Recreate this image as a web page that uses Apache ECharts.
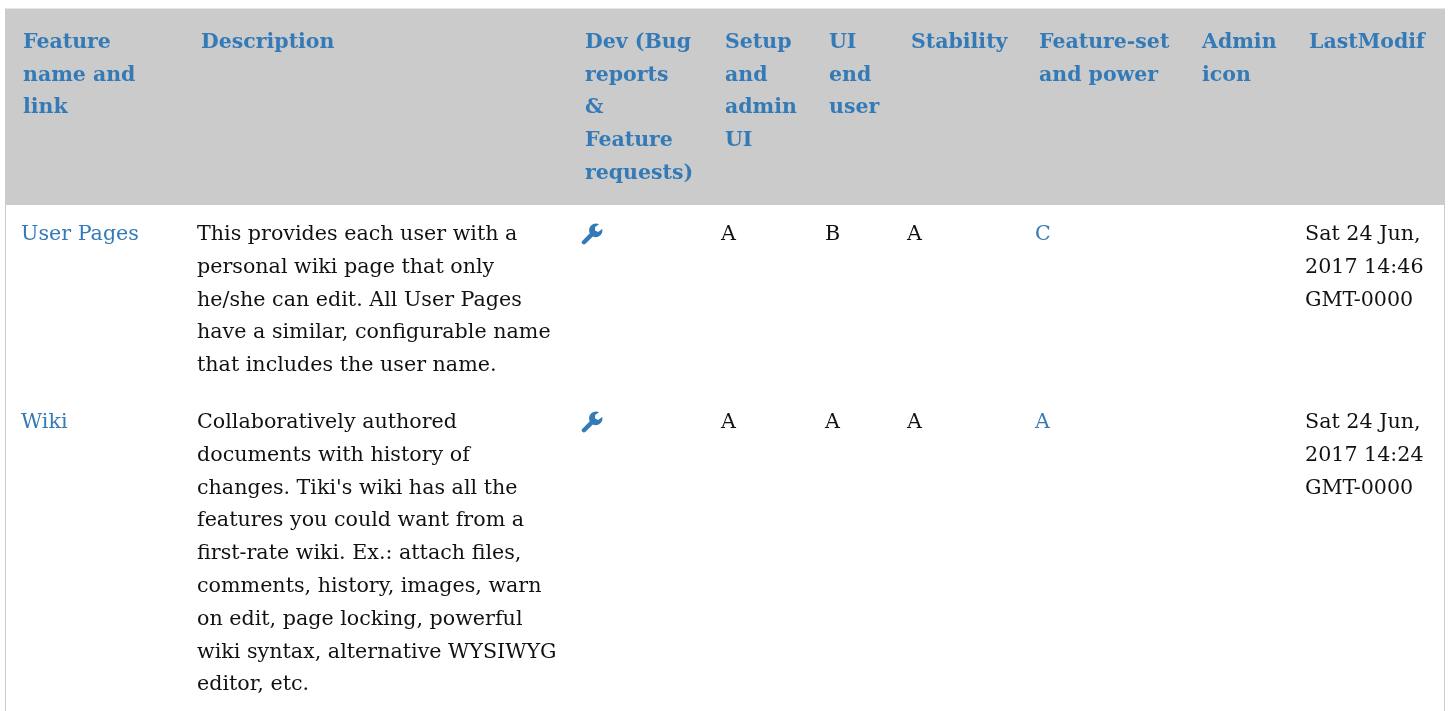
<!DOCTYPE html>
<html>
<head>
<meta charset="utf-8">
<style>
  html, body { margin: 0; padding: 0; background: #fff; }
  #tableChart { width: 1448px; height: 711px; }
</style>
<script src="https://cdn.jsdelivr.net/npm/echarts@6/dist/echarts.min.js"></script>
</head>
<body>
<div id="tableChart"></div>
<script>
// table content
const headers = [
  ['Feature', 'name and', 'link'],
  ['Description'],
  ['Dev (Bug', 'reports', '&', 'Feature', 'requests)'],
  ['Setup', 'and', 'admin', 'UI'],
  ['UI', 'end', 'user'],
  ['Stability'],
  ['Feature-set', 'and power'],
  ['Admin', 'icon'],
  ['LastModif']
];
const featureNames = ['User Pages', 'Wiki'];
const descriptions = [
  ['This provides each user with a', 'personal wiki page that only', 'he/she can edit. All User Pages', 'have a similar, configurable name', 'that includes the user name.'],
  ['Collaboratively authored', 'documents with history of', "changes. Tiki's wiki has all the", 'features you could want from a', 'first-rate wiki. Ex.: attach files,', 'comments, history, images, warn', 'on edit, page locking, powerful', 'wiki syntax, alternative WYSIWYG', 'editor, etc.']
];
const setupGrades = ['A', 'A'];
const uiGrades = ['B', 'A'];
const stabilityGrades = ['A', 'A'];
const powerGrades = ['C', 'A'];
const lastModified = [
  ['Sat 24 Jun,', '2017 14:46', 'GMT-0000'],
  ['Sat 24 Jun,', '2017 14:24', 'GMT-0000']
];

// layout, in page pixels
const headerX = [23, 201, 585, 725, 829, 911, 1039, 1202, 1309];
const bodyX = [21, 197, 581, 721, 825, 907, 1035, 1198, 1305];
const rowY = [234.8, 422.8];
const headerY = 42.5;
const lineHeight = 32.77;

const fontFamily = '"DejaVu Serif", serif';
const linkColor = '#337ab7';
const textColor = '#111111';
const wrenchPath = 'M0.7 17.4L8.3 9.8C7.8 8.9 7.6 7.9 7.6 6.9C7.6 3.1 10.7 0 14.5 0C15.6 0 16.6 0.3 17.5 0.7L13.6 3.6L13.6 7L16.6 8.4L20.6 5.6C20.8 6 20.9 6.5 20.9 7C20.9 10.8 17.8 13.7 14 13.7C13.1 13.7 12.2 13.5 11.4 13.1L4 20.3C3.1 21.2 1.8 21.2 0.9 20.3L0.7 20.1C-0.1 19.3 -0.1 18.2 0.7 17.4Z';

// one item per cell: [x, y, lines, kind]
const cells = [];
headers.forEach(function (lines, i) {
  cells.push([headerX[i], headerY, lines, 'header']);
});
rowY.forEach(function (y, r) {
  cells.push([bodyX[0], y, [featureNames[r]], 'link']);
  cells.push([bodyX[1], y, descriptions[r], 'text']);
  cells.push([bodyX[2], y, [], 'icon']);
  cells.push([bodyX[3], y, [setupGrades[r]], 'text']);
  cells.push([bodyX[4], y, [uiGrades[r]], 'text']);
  cells.push([bodyX[5], y, [stabilityGrades[r]], 'text']);
  cells.push([bodyX[6], y, [powerGrades[r]], 'link']);
  cells.push([bodyX[8], y, lastModified[r], 'text']);
});

const chart = echarts.init(document.getElementById('tableChart'));

function renderCell(params, api) {
  const cell = cells[params.dataIndex];
  const kind = cell[3];
  const origin = api.coord([cell[0], cell[1]]);
  if (kind === 'icon') {
    return {
      type: 'path',
      shape: {
        pathData: wrenchPath,
        x: origin[0] + 0.5,
        y: origin[1] - 11.3,
        width: 21,
        height: 21,
        layout: 'center'
      },
      style: {fill: linkColor}
    };
  }
  return {
    type: 'group',
    children: cell[2].map(function (line, i) {
      return {
        type: 'text',
        x: origin[0],
        y: origin[1] + i * lineHeight,
        style: {
          text: line,
          fontFamily: fontFamily,
          fontSize: kind === 'header' ? 20.48 : 20.65,
          fontWeight: kind === 'header' ? 'bold' : 'normal',
          fill: kind === 'text' ? textColor : linkColor,
          verticalAlign: 'middle',
          align: 'left'
        }
      };
    })
  };
}

// table frame: header band and thin side borders
function renderFrame(params, api) {
  const topLeft = api.coord([6, 9]);
  const bottomRight = api.coord([1444, 205]);
  const edge = api.coord([0, 711]);
  return {
    type: 'group',
    children: [
      {type: 'rect', shape: {x: topLeft[0] - 1, y: topLeft[1] - 1, width: bottomRight[0] - topLeft[0] + 2, height: 1}, style: {fill: '#e6e6e6'}},
      {type: 'rect', shape: {x: topLeft[0] - 1, y: bottomRight[1], width: 1, height: edge[1] - bottomRight[1]}, style: {fill: '#cccccc'}},
      {type: 'rect', shape: {x: bottomRight[0], y: bottomRight[1], width: 1, height: edge[1] - bottomRight[1]}, style: {fill: '#cccccc'}},
      {type: 'rect', shape: {x: topLeft[0] - 1, y: topLeft[1], width: bottomRight[0] - topLeft[0] + 2, height: bottomRight[1] - topLeft[1]}, style: {fill: '#cbcbcb'}}
    ]
  };
}

chart.setOption({
  animation: false,
  grid: {left: 0, right: 0, top: 0, bottom: 0},
  xAxis: {type: 'value', min: 0, max: 1448, show: false},
  yAxis: {type: 'value', min: 0, max: 711, inverse: true, show: false},
  series: [
    {type: 'custom', coordinateSystem: 'cartesian2d', renderItem: renderFrame, data: [[0, 0]], silent: true, z: 1},
    {type: 'custom', coordinateSystem: 'cartesian2d', renderItem: renderCell, data: cells.map(function (c) { return [c[0], c[1]]; }), silent: true, z: 2}
  ]
});
</script>
</body>
</html>
